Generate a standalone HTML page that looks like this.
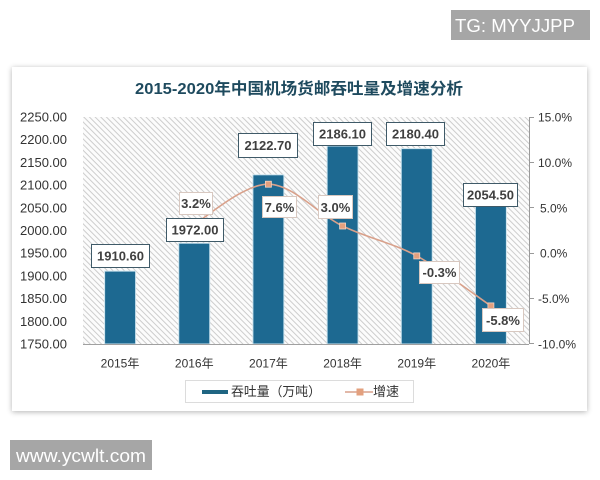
<!DOCTYPE html>
<html><head><meta charset="utf-8">
<style>
html,body{margin:0;padding:0;background:#fff;width:600px;height:480px;overflow:hidden}
svg{display:block}
</style></head>
<body>
<svg width="600" height="480" viewBox="0 0 600 480" xmlns="http://www.w3.org/2000/svg" font-family="'Liberation Sans','Noto Sans CJK SC',sans-serif">
<defs>
<pattern id="hatch" width="4" height="4" patternUnits="userSpaceOnUse" patternTransform="rotate(-45)">
<rect width="4" height="4" fill="#fcfcfc"/>
<line x1="0.5" y1="0" x2="0.5" y2="4" stroke="#cdcdcd" stroke-width="1"/>
</pattern>
<filter id="sh" x="-5%" y="-5%" width="110%" height="110%">
<feGaussianBlur in="SourceAlpha" stdDeviation="3"/>
<feOffset dx="0" dy="1"/>
<feComponentTransfer><feFuncA type="linear" slope="0.3"/></feComponentTransfer>
<feMerge><feMergeNode/><feMergeNode in="SourceGraphic"/></feMerge>
</filter>
</defs>

<!-- TG box -->
<rect x="451" y="10" width="139" height="30" fill="#a6a6a6"/>
<text x="455" y="32" font-size="18" fill="#fff" textLength="120" lengthAdjust="spacingAndGlyphs">TG: MYYJJPP</text>

<!-- card -->
<rect x="12" y="67" width="575" height="344" fill="#fff" filter="url(#sh)"/>

<!-- title -->
<text x="135" y="94" font-size="16" font-weight="bold" fill="#1e4a5e" textLength="328" lengthAdjust="spacingAndGlyphs" font-family="'Liberation Sans','Noto Sans CJK SC',sans-serif">2015-2020年中国机场货邮吞吐量及增速分析</text>

<!-- plot background -->
<rect x="83" y="117" width="446" height="227" fill="url(#hatch)"/>

<!-- left axis labels -->
<g font-size="13" fill="#333" text-anchor="end">
<text x="67" y="121.5">2250.00</text>
<text x="67" y="144.2">2200.00</text>
<text x="67" y="166.9">2150.00</text>
<text x="67" y="189.6">2100.00</text>
<text x="67" y="212.3">2050.00</text>
<text x="67" y="235">2000.00</text>
<text x="67" y="257.7">1950.00</text>
<text x="67" y="280.4">1900.00</text>
<text x="67" y="303.1">1850.00</text>
<text x="67" y="325.8">1800.00</text>
<text x="67" y="348.5">1750.00</text>
</g>

<!-- right axis -->
<g stroke="#9a9a9a" stroke-width="1">
<line x1="529.5" y1="117" x2="529.5" y2="344"/>
<line x1="529.5" y1="117.5" x2="534" y2="117.5"/>
<line x1="529.5" y1="162.5" x2="534" y2="162.5"/>
<line x1="529.5" y1="207.5" x2="534" y2="207.5"/>
<line x1="529.5" y1="253.5" x2="534" y2="253.5"/>
<line x1="529.5" y1="298.5" x2="534" y2="298.5"/>
<line x1="529.5" y1="343.5" x2="534" y2="343.5"/>
</g>
<g font-size="12" fill="#333">
<text x="538" y="121.5">15.0%</text>
<text x="538" y="166.9">10.0%</text>
<text x="540" y="212.3">5.0%</text>
<text x="540" y="257.7">0.0%</text>
<text x="538" y="303.1">-5.0%</text>
<text x="538" y="348.5">-10.0%</text>
</g>

<!-- bars -->
<g fill="#1d6991" stroke="#cfe5ef" stroke-width="1">
<rect x="104.6" y="271.1" width="31" height="72.9"/>
<rect x="178.75" y="243.2" width="31" height="100.8"/>
<rect x="252.9" y="174.8" width="31" height="169.2"/>
<rect x="327.1" y="146" width="31" height="198"/>
<rect x="401.25" y="148.6" width="31" height="195.4"/>
<rect x="475.4" y="205.8" width="31" height="138.2"/>
</g>

<!-- bottom axis -->
<line x1="83" y1="344.5" x2="529" y2="344.5" stroke="#a0a0a0" stroke-width="1"/>

<!-- line series -->
<path d="M194.25,224.1 C206.6,217.45 243.7,183.9 268.4,184.2 C293.1,184.5 317.9,214.05 342.6,226 C367.3,237.95 392,242.6 416.75,255.9 C441.5,269.2 478.5,297.6 490.9,305.9" fill="none" stroke="#d9a18b" stroke-width="1.6"/>
<g fill="#e3a07e" stroke="#f3d2c2" stroke-width="0.8">
<rect x="191.25" y="221.1" width="6" height="6"/>
<rect x="265.4" y="181.2" width="6" height="6"/>
<rect x="339.6" y="223" width="6" height="6"/>
<rect x="413.75" y="252.9" width="6" height="6"/>
<rect x="487.9" y="302.9" width="6" height="6"/>
</g>

<!-- percent labels -->
<g fill="#fff" stroke="#d8c8c0" stroke-width="1">
<rect x="179.5" y="192.5" width="33" height="22"/>
<rect x="262.5" y="196.5" width="34" height="21"/>
<rect x="318.5" y="195.5" width="34" height="23"/>
<rect x="419.5" y="261.5" width="40" height="22"/>
<rect x="482.5" y="308.5" width="41" height="23"/>
</g>
<g font-size="13" font-weight="bold" fill="#404040" text-anchor="middle">
<text x="196" y="208">3.2%</text>
<text x="279.5" y="212">7.6%</text>
<text x="335.5" y="212">3.0%</text>
<text x="439.5" y="277">-0.3%</text>
<text x="503" y="325">-5.8%</text>
</g>

<!-- value labels -->
<g fill="#fff" stroke="#3f5a68" stroke-width="1">
<rect x="91.5" y="244.5" width="58" height="23"/>
<rect x="166.5" y="218.5" width="57" height="23"/>
<rect x="238.5" y="133.5" width="59" height="24"/>
<rect x="313.5" y="122.5" width="58" height="23"/>
<rect x="386.5" y="122.5" width="58" height="23"/>
<rect x="463.5" y="183.5" width="54" height="23"/>
</g>
<g font-size="13" font-weight="bold" fill="#404040" text-anchor="middle">
<text x="120.5" y="260.5">1910.60</text>
<text x="195" y="234.5">1972.00</text>
<text x="268" y="150">2122.70</text>
<text x="342.5" y="138.5">2186.10</text>
<text x="415.5" y="138.5">2180.40</text>
<text x="490.5" y="199.5">2054.50</text>
</g>

<!-- x labels -->
<g font-size="12" fill="#333" text-anchor="middle">
<text x="120" y="367.5">2015年</text>
<text x="194.25" y="367.5">2016年</text>
<text x="268.4" y="367.5">2017年</text>
<text x="342.6" y="367.5">2018年</text>
<text x="416.75" y="367.5">2019年</text>
<text x="490.9" y="367.5">2020年</text>
</g>

<!-- legend -->
<rect x="185.5" y="380.5" width="228" height="22" fill="#fff" stroke="#dcdcdc" stroke-width="1"/>
<rect x="202" y="390" width="26" height="4" fill="#1f6582"/>
<text x="231" y="396" font-size="13" fill="#333" textLength="90" lengthAdjust="spacingAndGlyphs">吞吐量（万吨）</text>
<line x1="345" y1="392" x2="373" y2="392" stroke="#d9a18b" stroke-width="1.6"/>
<rect x="356.5" y="388.5" width="7" height="7" fill="#e3a07e"/>
<text x="373" y="396" font-size="13" fill="#333">增速</text>

<!-- www box -->
<rect x="10" y="440" width="142" height="30" fill="#a6a6a6"/>
<text x="16" y="462" font-size="18" fill="#fff" textLength="130" lengthAdjust="spacingAndGlyphs">www.ycwlt.com</text>
</svg>
</body></html>
